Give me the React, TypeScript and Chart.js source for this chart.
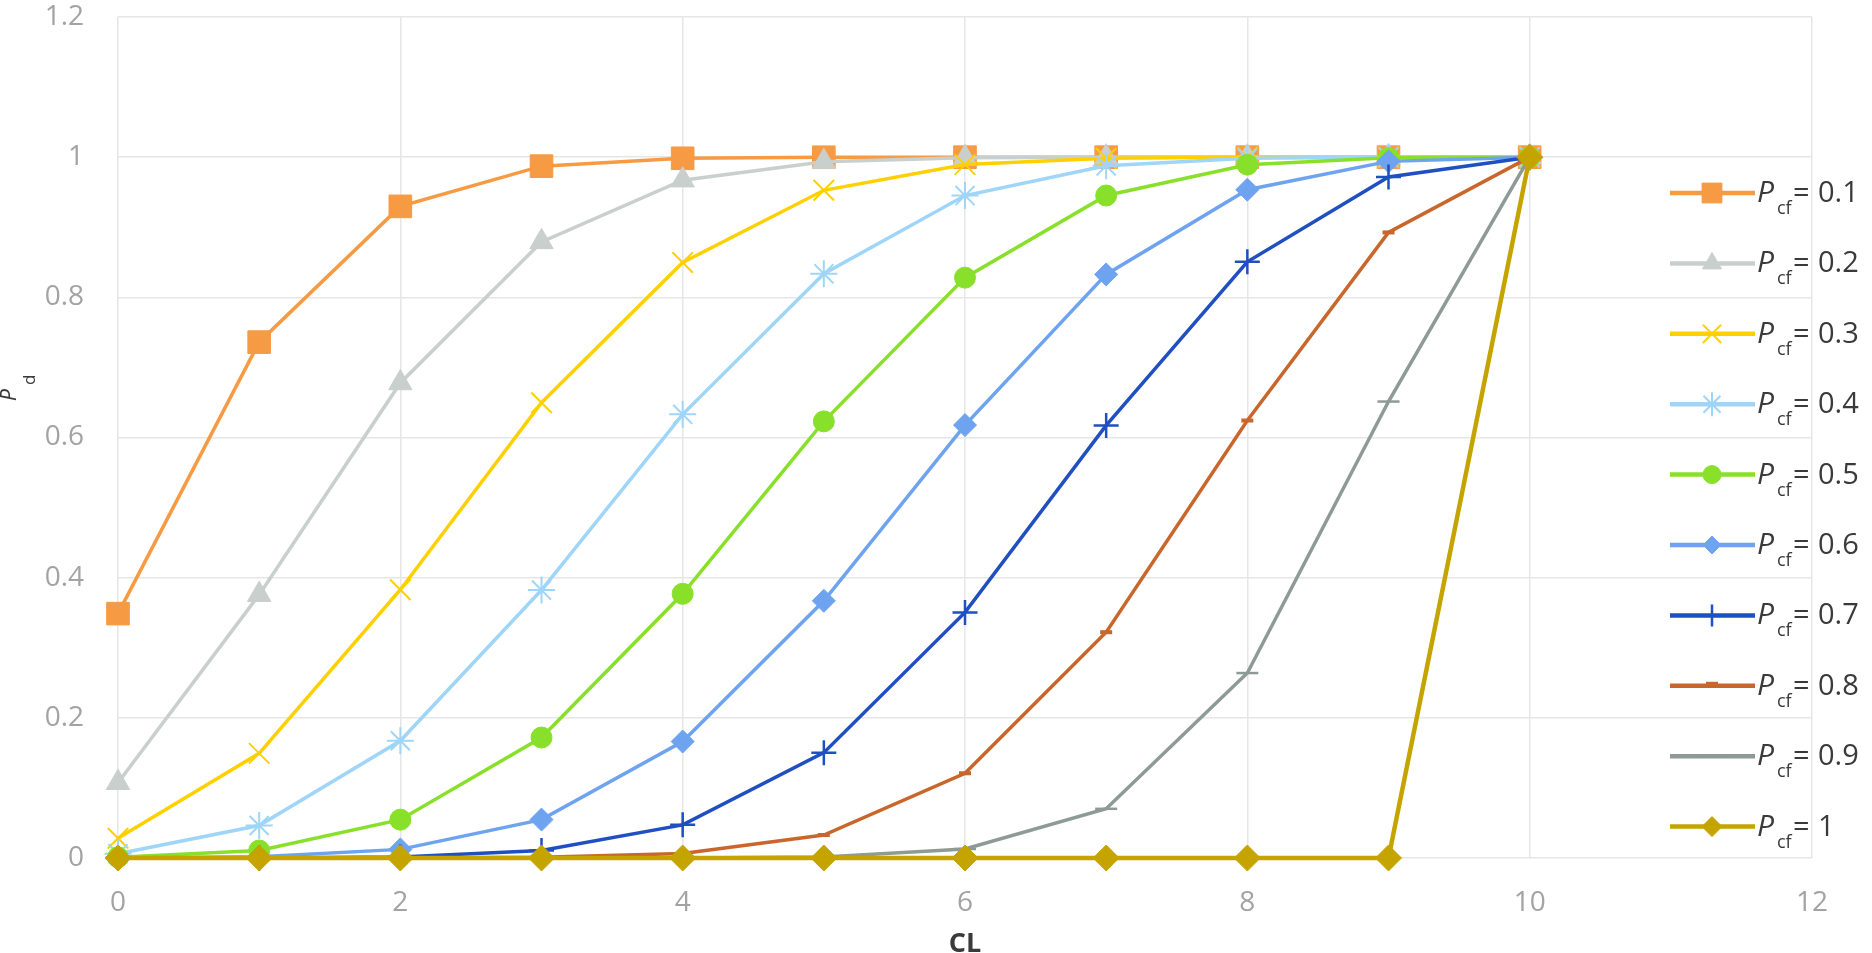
import React, { useEffect, useRef } from 'react';
import { Chart, registerables } from 'chart.js';
import { drawPoint } from 'chart.js/helpers';

Chart.register(...registerables);

// ---- data ----
const CL = [0, 1, 2, 3, 4, 5, 6, 7, 8, 9, 10];
const PCF_LABELS = ['0.1', '0.2', '0.3', '0.4', '0.5', '0.6', '0.7', '0.8', '0.9', '1'];
const pcf01 = [0.3487, 0.7361, 0.9298, 0.9872, 0.9984, 0.9999, 1, 1, 1, 1, 1];
const pcf02 = [0.1074, 0.3758, 0.6778, 0.8791, 0.9672, 0.9936, 0.9991, 0.9999, 1, 1, 1];
const pcf03 = [0.0282, 0.1493, 0.3828, 0.6496, 0.8497, 0.9527, 0.9894, 0.9984, 0.9999, 1, 1];
const pcf04 = [0.006, 0.0464, 0.1673, 0.3823, 0.6331, 0.8338, 0.9452, 0.9877, 0.9983, 0.9999, 1];
const pcf05 = [0.001, 0.0107, 0.0547, 0.1719, 0.377, 0.623, 0.8281, 0.9453, 0.9893, 0.999, 1];
const pcf06 = [0.0001, 0.0017, 0.0123, 0.0548, 0.1662, 0.3669, 0.6177, 0.8327, 0.9536, 0.994, 1];
const pcf07 = [0, 0.0001, 0.0016, 0.0106, 0.0473, 0.1503, 0.3504, 0.6172, 0.8507, 0.9718, 1];
const pcf08 = [0, 0, 0.0001, 0.0009, 0.0064, 0.0328, 0.1209, 0.3222, 0.6242, 0.8926, 1];
const pcf09 = [0, 0, 0, 0, 0.0001, 0.0016, 0.0128, 0.0702, 0.2639, 0.6513, 1];
const pcf10 = [0, 0, 0, 0, 0, 0, 0, 0, 0, 0, 1];
const SERIES_VALUES = [pcf01, pcf02, pcf03, pcf04, pcf05, pcf06, pcf07, pcf08, pcf09, pcf10];

const X_TICK_MAX = 12;
const Y_TICK_MAX = 1.2;
const X_TITLE = 'CL';
const Y_TITLE_MAIN = 'P';
const Y_TITLE_SUB = 'd';
const LEGEND_MAIN = 'P';
const LEGEND_SUB = 'cf';

// ---- styles ----
const STYLES = [
  { color: '#F79A44', style: 'rect', r: 16, bw: 1, lr: 14 },
  { color: '#C9CFCC', style: 'triangle', r: 13.5, bw: 1, lr: 11 },
  { color: '#FFD000', style: 'crossRot', r: 14.5, bw: 2, lr: 13 },
  { color: '#9ED5F8', style: 'star', r: 13.5, bw: 2, lr: 12 },
  { color: '#88E02A', style: 'circle', r: 10.5, bw: 1, lr: 9 },
  { color: '#6EA3F0', style: 'rectRot', r: 11.5, bw: 1, lr: 9 },
  { color: '#1F4FC0', style: 'cross', r: 12.5, bw: 2.5, lr: 11 },
  { color: '#C9662B', style: 'line', r: 6, bw: 4, lr: 6 },
  { color: '#8E9A96', style: 'line', r: 11, bw: 2.5, lr: 11 },
  { color: '#C6A400', style: 'rectRot', r: 13, bw: 1, lr: 10 },
];

const FONT = '"Open Sans", "DejaVu Sans", sans-serif';

const overlayPlugin = {
  id: 'overlay',
  afterDraw(chart: any) {
    const ctx = chart.ctx as CanvasRenderingContext2D;
    const area = chart.chartArea;
    ctx.save();
    // legend
    const startY = 193;
    const stepY = 70.4;
    for (let i = 0; i < PCF_LABELS.length; i++) {
      const st = STYLES[i];
      const cy = startY + stepY * i;
      ctx.strokeStyle = st.color;
      ctx.fillStyle = st.color;
      ctx.lineWidth = 4.5;
      ctx.lineCap = 'butt';
      ctx.beginPath();
      ctx.moveTo(1670, cy);
      ctx.lineTo(1755, cy);
      ctx.stroke();
      ctx.lineWidth = st.bw;
      drawPoint(ctx, { pointStyle: st.style, radius: st.lr, rotation: 0, borderWidth: st.bw } as any, 1712, i === 7 ? cy - 2 : cy);
      ctx.fillStyle = '#3A3A3A';
      ctx.textBaseline = 'alphabetic';
      ctx.textAlign = 'left';
      ctx.font = `italic 30px ${FONT}`;
      ctx.fillText(LEGEND_MAIN, 1757, cy + 9);
      ctx.font = `18px ${FONT}`;
      ctx.fillText(LEGEND_SUB, 1777, cy + 21);
      ctx.font = `29px ${FONT}`;
      ctx.fillText('=', 1793, cy + 9);
      ctx.fillText(PCF_LABELS[i], 1818, cy + 9);
    }
    // x title
    ctx.fillStyle = '#3A3A3A';
    ctx.font = `bold 27px ${FONT}`;
    ctx.textAlign = 'center';
    ctx.textBaseline = 'alphabetic';
    ctx.fillText(X_TITLE, (area.left + area.right) / 2, 952);
    // y title (rotated)
    ctx.save();
    ctx.translate(16, 401);
    ctx.rotate(-Math.PI / 2);
    ctx.textAlign = 'left';
    ctx.font = `italic 21px ${FONT}`;
    ctx.fillText(Y_TITLE_MAIN, 0, 0);
    ctx.font = `17px ${FONT}`;
    ctx.fillText(Y_TITLE_SUB, 16, 19);
    ctx.restore();
    ctx.restore();
  },
};

export default function App() {
  const canvasRef = useRef<HTMLCanvasElement | null>(null);

  useEffect(() => {
    document.body.style.margin = '0';
    const canvas = canvasRef.current;
    if (!canvas) return;
    const n = SERIES_VALUES.length;
    const datasets = SERIES_VALUES.map((vals, i) => {
      const st = STYLES[i];
      return {
        label: 'Pcf = ' + PCF_LABELS[i],
        data: CL.map((x, j) => ({ x, y: vals[j] })),
        borderColor: st.color,
        backgroundColor: st.color,
        borderWidth: i === n - 1 ? 4.5 : 3.5,
        pointStyle: st.style,
        pointRadius: st.r,
        pointBorderWidth: st.bw,
        pointBorderColor: st.color,
        pointBackgroundColor: st.color,
        tension: 0,
        clip: false as any,
        order: n - i,
      };
    });
    const chart = new Chart(canvas, {
      type: 'line',
      data: { datasets: datasets as any },
      options: {
        animation: false,
        responsive: false,
        devicePixelRatio: 1,
        layout: { padding: { top: 14, right: 60, left: 0, bottom: 0 } },
        plugins: { legend: { display: false }, tooltip: { enabled: false } },
        scales: {
          x: {
            type: 'linear',
            min: 0,
            max: X_TICK_MAX,
            ticks: { stepSize: 2, color: '#A3A3A3', font: { family: FONT, size: 28 }, padding: 28 },
            grid: { color: '#E6E6E6', lineWidth: 1.5, drawTicks: false },
            border: { display: false },
            afterFit: (s: any) => {
              s.height = 95;
              s.paddingLeft = 0;
              s.paddingRight = 0;
            },
          },
          y: {
            type: 'linear',
            min: 0,
            max: Y_TICK_MAX,
            ticks: {
              stepSize: 0.2,
              color: '#A3A3A3',
              font: { family: FONT, size: 28 },
              padding: 34,
              callback: (v: any) => String(Math.round(Number(v) * 10) / 10),
            },
            grid: { color: '#E6E6E6', lineWidth: 1.5, drawTicks: false },
            border: { display: false },
            afterFit: (s: any) => {
              s.width = 118;
              s.paddingTop = 0;
              s.paddingBottom = 0;
            },
          },
        },
      },
      plugins: [overlayPlugin],
    });
    return () => chart.destroy();
  }, []);

  return (
    <div style={{ position: 'fixed', left: 0, top: 0, width: 1872, height: 953, background: '#fff' }}>
      <canvas ref={canvasRef} width={1872} height={953} />
    </div>
  );
}
